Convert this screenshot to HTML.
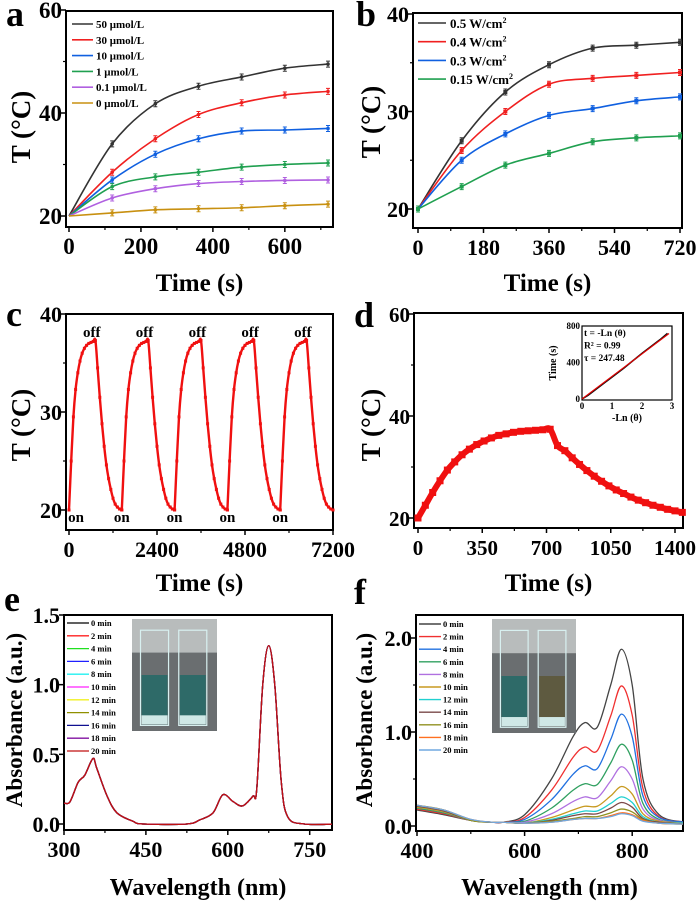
<!DOCTYPE html>
<html><head><meta charset="utf-8">
<style>
html,body{margin:0;padding:0;background:#fff;}
svg{display:block;font-family:"Liberation Serif",serif;font-weight:bold;}
</style></head>
<body>
<svg id="fig" width="700" height="901" viewBox="0 0 700 901" xmlns="http://www.w3.org/2000/svg"></svg>
<script>
// ---------- data ----------
const aTime=[0,120,240,360,480,600,720];
const aLabels=["50 \u03bcmol/L","30 \u03bcmol/L","10 \u03bcmol/L","1  \u03bcmol/L","0.1 \u03bcmol/L","0  \u03bcmol/L"];
const a50=[20,34,41.8,45.2,47,48.7,49.5];
const a30=[20,28.5,35,39.7,42,43.5,44.2];
const a10=[20,27,32,35,36.5,36.7,37];
const a1=[20,25.7,27.6,28.5,29.5,30,30.3];
const a01=[20,23.5,25.3,26.3,26.7,26.9,27];
const a0=[20,20.6,21.2,21.4,21.6,22,22.3];

const bTime=[0,120,240,360,480,600,720];
const bLabels=["0.5 W/cm","0.4 W/cm","0.3 W/cm","0.15 W/cm"];
const b05=[20,27,32,34.8,36.5,36.8,37.1];
const b04=[20,26,30,32.8,33.4,33.7,34];
const b03=[20,25,27.7,29.6,30.3,31.1,31.5];
const b015=[20,22.3,24.5,25.7,26.9,27.3,27.5];

const cCycleStart=[0,1440,2880,4320,5760];
const cHeatTime=[0,60,120,180,240,300,360,420,480,540,600,660,720];
const cHeatTemp=[20,25,29.5,32.3,34,35.2,36,36.5,36.8,37,37.1,37.2,37.3];
const cCoolTime=[780,840,900,960,1020,1080,1140,1200,1260,1320,1380,1440];
const cCoolTemp=[34.5,31.5,28.8,26.5,24.6,23.2,22.1,21.2,20.6,20.3,20.1,20];

const dTime=[0,40,80,120,160,200,240,280,320,360,400,440,480,520,560,600,640,680,720,760,800,840,880,920,960,1000,1040,1080,1120,1160,1200,1240,1280,1320,1360,1400,1440];
const dTemp=[20,22.5,25,27.3,29.4,31,32.4,33.5,34.4,35.1,35.7,36.2,36.5,36.8,37,37.1,37.2,37.3,37.4,34.2,33.2,31.8,30.5,29.3,28.2,27.2,26.3,25.5,24.8,24.1,23.5,23,22.5,22.1,21.7,21.4,21.1];
const insetLn=[0,0.2,0.5,0.8,1.1,1.4,1.7,2.0,2.3,2.6,2.85];
const insetT=[0,40,115,190,265,340,420,500,575,650,720];
const insetTau=247.48;

const eWl=[300,311,326,338,353,360,379,397,426,445,525,549,573,591,610,627,646,653,664,675,686,698,710,740,800];
const eAbs=[0.15,0.16,0.3,0.35,0.47,0.4,0.2,0.08,0.02,0,0,0.03,0.08,0.21,0.16,0.13,0.2,0.25,1.0,1.28,1.0,0.3,0.05,0,0];
const eLabels=["0 min","2 min","4 min","6 min","8 min","10 min","12 min","14 min","16 min","18 min","20 min"];

const fWl=[400,450,500,540,560,600,650,690,712,735,760,780,800,820,850,900];
const fLabels=["0 min","2 min","4 min","6 min","8 min","10 min","12 min","14 min","16 min","18 min","20 min"];
const f0=[.17,.12,.06,.04,.04,.12,.5,.95,1.1,1.05,1.5,1.88,1.5,.5,.12,.04];
const f2=[.18,.13,.06,.04,.04,.09,.38,.73,.84,.80,1.17,1.49,1.18,.4,.1,.04];
const f4=[.19,.14,.06,.04,.04,.07,.28,.55,.64,.61,.92,1.19,.95,.32,.09,.04];
const f6=[.19,.14,.06,.04,.04,.05,.19,.38,.45,.44,.67,.87,.7,.24,.07,.03];
const f8=[.2,.15,.06,.04,.04,.04,.13,.26,.31,.30,.48,.63,.5,.18,.06,.03];
const f10=[.2,.15,.06,.04,.04,.03,.09,.17,.21,.21,.32,.42,.34,.13,.05,.03];
const f12=[.21,.16,.06,.04,.04,.03,.07,.13,.16,.16,.24,.31,.25,.1,.04,.03];
const f14=[.21,.16,.06,.04,.04,.03,.06,.11,.13,.13,.19,.25,.2,.08,.04,.02];
const f16=[.22,.17,.06,.04,.04,.03,.05,.08,.1,.1,.14,.18,.15,.07,.03,.02];
const f18=[.22,.17,.07,.04,.04,.03,.04,.07,.08,.08,.11,.14,.12,.06,.03,.02];
const f20=[.22,.17,.07,.04,.04,.03,.04,.07,.08,.08,.1,.13,.11,.05,.03,.02];

// ---------- helpers ----------
const NS='http://www.w3.org/2000/svg';
const svg=document.getElementById('fig');
function mk(tag,attrs,parent){const e=document.createElementNS(NS,tag);for(const k in attrs)e.setAttribute(k,attrs[k]);(parent||svg).appendChild(e);return e;}
function lin(d0,d1,p0,p1){return v=>p0+(v-d0)*(p1-p0)/(d1-d0);}
function smooth(pts){let d='M'+pts[0][0]+','+pts[0][1];for(let i=0;i<pts.length-1;i++){const p0=pts[i-1]||pts[i],p1=pts[i],p2=pts[i+1],p3=pts[i+2]||p2;const c1=[p1[0]+(p2[0]-p0[0])/6,p1[1]+(p2[1]-p0[1])/6],c2=[p2[0]-(p3[0]-p1[0])/6,p2[1]-(p3[1]-p1[1])/6];d+=' C'+c1+' '+c2+' '+p2;}return d;}
function poly(pts){return 'M'+pts.map(p=>p.join(',')).join(' L');}

function axes(P){
  const g=mk('g',{});
  
  
  P.xticks.forEach((t,i)=>{const x=P.sx(t);
    const l=mk('line',{x1:x,x2:x,y1:P.by1,y2:P.by1+5,stroke:'#000','stroke-width':1.5},g);
    
    
    const tx=mk('text',{x:x,y:P.by1+27,'text-anchor':'middle','font-size':P.fs||22},g);tx.textContent=P.xtl?P.xtl[i]:t;
    
    });
  (P.xminor||[]).forEach(t=>{const x=P.sx(t);const l=mk('line',{x1:x,x2:x,y1:P.by1,y2:P.by1+3,stroke:'#000','stroke-width':1.2},g);
    
    });
  P.yticks.forEach((t,i)=>{const y=P.sy(t);
    const l=mk('line',{x1:P.bx0-5,x2:P.bx0,y1:y,y2:y,stroke:'#000','stroke-width':1.5},g);
    
    
    const tx=mk('text',{x:P.bx0-4,y:y+8,'text-anchor':'end','font-size':P.fs||22},g);tx.textContent=P.ytl?P.ytl[i]:t;
    
    });
  (P.yminor||[]).forEach(t=>{const y=P.sy(t);const l=mk('line',{x1:P.bx0-3,x2:P.bx0,y1:y,y2:y,stroke:'#000','stroke-width':1.2},g);
    
    });
  const r=mk('rect',{x:P.bx0,y:P.by0,width:P.bx1-P.bx0,height:P.by1-P.by0,fill:'none',stroke:'#000','stroke-width':2},g);
  
  
  const xt=mk('text',{x:(P.bx0+P.bx1)/2,y:P.xty,'text-anchor':'middle','font-size':P.tfs||25},g);xt.textContent=P.xtitle;
  
  
  const yt=mk('text',{x:0,y:0,'text-anchor':'middle','font-size':P.yfs||27,transform:`translate(${P.ytx},${P.yty}) rotate(-90)`},g);yt.textContent=P.ytitle;
  
  
  const pl=mk('text',{x:P.lx,y:P.ly,'font-size':36},g);pl.textContent=P.letter;
  
  
  const cp=mk('clipPath',{id:'clip-'+P.name});mk('rect',{x:P.bx0,y:P.by0,width:P.bx1-P.bx0,height:P.by1-P.by0},cp);
}

// ---------- panel a ----------
(function(){
 const sx=lin(0,720,69,328), sy=lin(20,60,216,10);
 axes({name:'panel-a',letter:'a',lx:6,ly:26,sx,sy,bx0:66,bx1:333,by0:11,by1:227,xticks:[0,200,400,600],xminor:[100,300,500,700],yticks:[20,40,60],yminor:[30,50],xtitle:'Time (s)',xty:291,ytitle:'T (\u00b0C)',ytx:30,yty:127,fs:23});
 const series=[a50,a30,a10,a1,a01,a0], cols=['#333','#f02020','#1060e0','#20a050','#b060e0','#c89010'];
 series.forEach((s,k)=>{const pts=aTime.map((t,i)=>[sx(t),sy(s[i])]);
  const p=mk('path',{d:smooth(pts),fill:'none',stroke:cols[k],'stroke-width':1.6});
  
  
  pts.forEach((q,i)=>{if(i==0)return;
   const eb=mk('path',{d:`M${q[0]-2},${q[1]-3}h4M${q[0]},${q[1]-3}v6M${q[0]-2},${q[1]+3}h4`,stroke:cols[k],'stroke-width':1,fill:'none'});
   
   
   const m=mk('circle',{cx:q[0],cy:q[1],r:1.8,fill:cols[k]});
   
   });
  const ly=24+k*15.8;
  const ll=mk('line',{x1:72,x2:93,y1:ly,y2:ly,stroke:cols[k],'stroke-width':1.6});
  
  
  const lt=mk('text',{x:96,y:ly+4,'font-size':11});lt.textContent=aLabels[k];
  
  
 });
})();

// ---------- panel b ----------
(function(){
 const sx=lin(0,720,418,680), sy=lin(20,40,209,14);
 axes({name:'panel-b',letter:'b',lx:356,ly:26,sx,sy,bx0:413,bx1:682,by0:13,by1:228,xticks:[0,180,360,540,720],xminor:[90,270,450,630],yticks:[20,30,40],yminor:[25,35],xtitle:'Time (s)',xty:291,ytitle:'T (\u00b0C)',ytx:380,yty:122});
 const series=[b05,b04,b03,b015], cols=['#333','#f02020','#1060e0','#20a050'];
 series.forEach((s,k)=>{const pts=bTime.map((t,i)=>[sx(t),sy(s[i])]);
  const p=mk('path',{d:smooth(pts),fill:'none',stroke:cols[k],'stroke-width':1.6});
  
  
  pts.forEach((q,i)=>{
   const eb=mk('path',{d:`M${q[0]-2},${q[1]-3}h4M${q[0]},${q[1]-3}v6M${q[0]-2},${q[1]+3}h4`,stroke:cols[k],'stroke-width':1,fill:'none'});
   
   
   const m=mk('rect',{x:q[0]-2,y:q[1]-2,width:4,height:4,fill:cols[k]});
   
   });
  const ly=23+k*18.7;
  const ll=mk('line',{x1:418,x2:446,y1:ly,y2:ly,stroke:cols[k],'stroke-width':1.6});
  
  
  const lt=mk('text',{x:450,y:ly+5,'font-size':13});lt.textContent=bLabels[k];
  const sup=mk('tspan',{dy:-5,'font-size':8},lt);sup.textContent='2';
  
  
 });
})();

// ---------- panel c ----------
(function(){
 const sx=lin(0,7200,69,333), sy=lin(20,40,510,314);
 axes({name:'panel-c',letter:'c',lx:6,ly:326,sx,sy,bx0:66,bx1:333,by0:314,by1:530,xticks:[0,2400,4800,7200],xminor:[1200,3600,6000],yticks:[20,30,40],yminor:[25,35],xtitle:'Time (s)',xty:591,ytitle:'T (\u00b0C)',ytx:30,yty:425});
 cCycleStart.forEach((c0,k)=>{
  const pts=cHeatTime.map((t,i)=>[sx(c0+t),sy(cHeatTemp[i])]).concat(cCoolTime.map((t,i)=>[sx(c0+t),sy(cCoolTemp[i])]));
  const p=mk('path',{d:smooth(pts),fill:'none',stroke:'#f01010','stroke-width':2.4});
  
  
  pts.forEach(q=>{const m=mk('rect',{x:q[0]-1.5,y:q[1]-1.5,width:3,height:3,fill:'#f01010'});
   
   });
  const off=mk('text',{x:sx(c0+620),y:337,'text-anchor':'middle','font-size':15});off.textContent='off';
  
  
  const on=mk('text',{x:sx(c0)+(k==0?7:0),y:522,'text-anchor':'middle','font-size':15});on.textContent='on';
  
  
 });
})();

// ---------- panel d ----------
(function(){
 const sx=lin(0,1400,418,675), sy=lin(20,60,518,314);
 axes({name:'panel-d',letter:'d',lx:354,ly:327,sx,sy,bx0:414,bx1:683,by0:313,by1:528,xticks:[0,350,700,1050,1400],xminor:[175,525,875,1225],yticks:[20,40,60],yminor:[30,50],xtitle:'Time (s)',xty:591,ytitle:'T (\u00b0C)',ytx:380,yty:425,fs:21});
 const pts=dTime.map((t,i)=>[sx(t),sy(dTemp[i])]);
 const p=mk('path',{d:smooth(pts),fill:'none',stroke:'#f01010','stroke-width':6});
 
 
 pts.forEach(q=>{const m=mk('rect',{x:q[0]-3.5,y:q[1]-3.5,width:7,height:7,fill:'#f01010'});
  
  });
 // inset
 const ix=lin(0,3,582,672), iy=lin(0,800,399,326);
 const g=mk('g',{});
 
 
 const fr=mk('rect',{x:582,y:326,width:90,height:74,fill:'#fff',stroke:'#000','stroke-width':1.2},g);
 
 
 [0,400,800].forEach(t=>{const tx=mk('text',{x:580,y:iy(t)+3,'text-anchor':'end','font-size':9},g);tx.textContent=t;
  
  });
 [0,1,2,3].forEach(t=>{const tx=mk('text',{x:ix(t),y:409,'text-anchor':'middle','font-size':9},g);tx.textContent=t;
  
  });
 const ixt=mk('text',{x:627,y:421,'text-anchor':'middle','font-size':10},g);ixt.textContent='-Ln (\u03b8)';
 
 
 const iyt=mk('text',{x:0,y:0,'text-anchor':'middle','font-size':10,transform:'translate(556,363) rotate(-90)'},g);iyt.textContent='Time (s)';
 
 
 const dl=mk('path',{d:poly(insetLn.map((v,i)=>[ix(v),iy(insetT[i])])),fill:'none',stroke:'#111','stroke-width':1.6},g);
 
 
 const fl=mk('line',{x1:ix(0),y1:iy(0),x2:ix(2.9),y2:iy(2.9*insetTau),stroke:'#e00000','stroke-width':1.2},g);
 
 
 const lines=['t = -Ln  (\u03b8)','R\u00b2 = 0.99','\u03c4 = '+insetTau];
 lines.forEach((s,i)=>{const tx=mk('text',{x:584,y:336+i*12.5,'font-size':9.5},g);tx.textContent=s;
  
  });
})();

// ---------- photo helper ----------
function photo(x,y,w,h,c1,c2,name){
 const g=mk('g',{});
 
 
 const bg=mk('rect',{x,y,width:w,height:h,fill:'#6a6e70'},g);
 
 
 const top=mk('rect',{x,y,width:w,height:h*0.3,fill:'#b8bcbc'},g);
 
 
 [[x+w*0.1,c1],[x+w*0.55,c2]].forEach(([cx,col])=>{
  const cv=mk('rect',{x:cx,y:y+h*0.1,width:w*0.33,height:h*0.85,fill:'none',stroke:'#d8f0f0','stroke-width':1.2},g);
  
  
  const lq=mk('rect',{x:cx+1,y:y+h*0.5,width:w*0.33-2,height:h*0.44,fill:col},g);
  
  
  const bs=mk('rect',{x:cx+1,y:y+h*0.86,width:w*0.33-2,height:h*0.08,fill:'#cfe8e6'},g);
  
  
 });
}

// ---------- panel e ----------
(function(){
 const sx=lin(300,800,64,337), sy=lin(0,1.5,824,615);
 axes({name:'panel-e',letter:'e',lx:4,ly:611,sx,sy,bx0:64,bx1:332,by0:615,by1:830,xticks:[300,450,600,750],xminor:[375,525,675],yticks:[0,0.5,1.0,1.5],ytl:['0.0','0.5','1.0','1.5'],xtitle:'Wavelength (nm)',xty:895,ytitle:'Absorbance (a.u.)',ytx:22,yty:720,yfs:23,tfs:24});
 const cols=['#000','#ff2020','#20e020','#2020ff','#20f0f0','#ff20ff','#f0f020','#909000','#101090','#8010a0','#c01010'];
 const g=mk('g',{'clip-path':'url(#clip-panel-e)'});
 
 
 cols.forEach((c,k)=>{
  const pts=eWl.map((w,i)=>[sx(w),sy(eAbs[i])]);
  const p=mk('path',{d:smooth(pts),fill:'none',stroke:c,'stroke-width':1.3},g);
  
  
  const ly=623+k*12.8;
  const ll=mk('line',{x1:67,x2:89,y1:ly,y2:ly,stroke:c,'stroke-width':1.3});
  
  
  const lt=mk('text',{x:91,y:ly+3,'font-size':8.5});lt.textContent=eLabels[k];
  
  
 });
 photo(132,619,85,112,'#2e6a68','#2e6a68','cuvette-photo-e');
})();

// ---------- panel f ----------
(function(){
 const sx=lin(400,900,417,686), sy=lin(0,2.0,826,638);
 axes({name:'panel-f',letter:'f',lx:354,ly:604,sx,sy,bx0:416,bx1:683,by0:615,by1:831,xticks:[400,600,800],xminor:[500,700],yticks:[0,1.0,2.0],ytl:['0.0','1.0','2.0'],yminor:[0.5,1.5],xtitle:'Wavelength (nm)',xty:895,ytitle:'Absorbance (a.u.)',ytx:372,yty:720,yfs:23,tfs:24});
 const series=[f0,f2,f4,f6,f8,f10,f12,f14,f16,f18,f20];
 const cols=['#444','#f03030','#2070e0','#30a060','#b070e0','#c89a20','#20d0d0','#7a4848','#909020','#ff7020','#70a8e0'];
 const g=mk('g',{'clip-path':'url(#clip-panel-f)'});
 
 
 series.forEach((s,k)=>{
  const pts=fWl.map((w,i)=>[sx(w),sy(s[i])]);
  const p=mk('path',{d:smooth(pts),fill:'none',stroke:cols[k],'stroke-width':1.3},g);
  
  
  const ly=624+k*12.6;
  const ll=mk('line',{x1:419,x2:441,y1:ly,y2:ly,stroke:cols[k],'stroke-width':1.4});
  
  
  const lt=mk('text',{x:443,y:ly+3,'font-size':8.5});lt.textContent=fLabels[k];
  
  
 });
 photo(492,619,84,114,'#2e6a68','#5e5a40','cuvette-photo-f');
})();
</script>
</body></html>
